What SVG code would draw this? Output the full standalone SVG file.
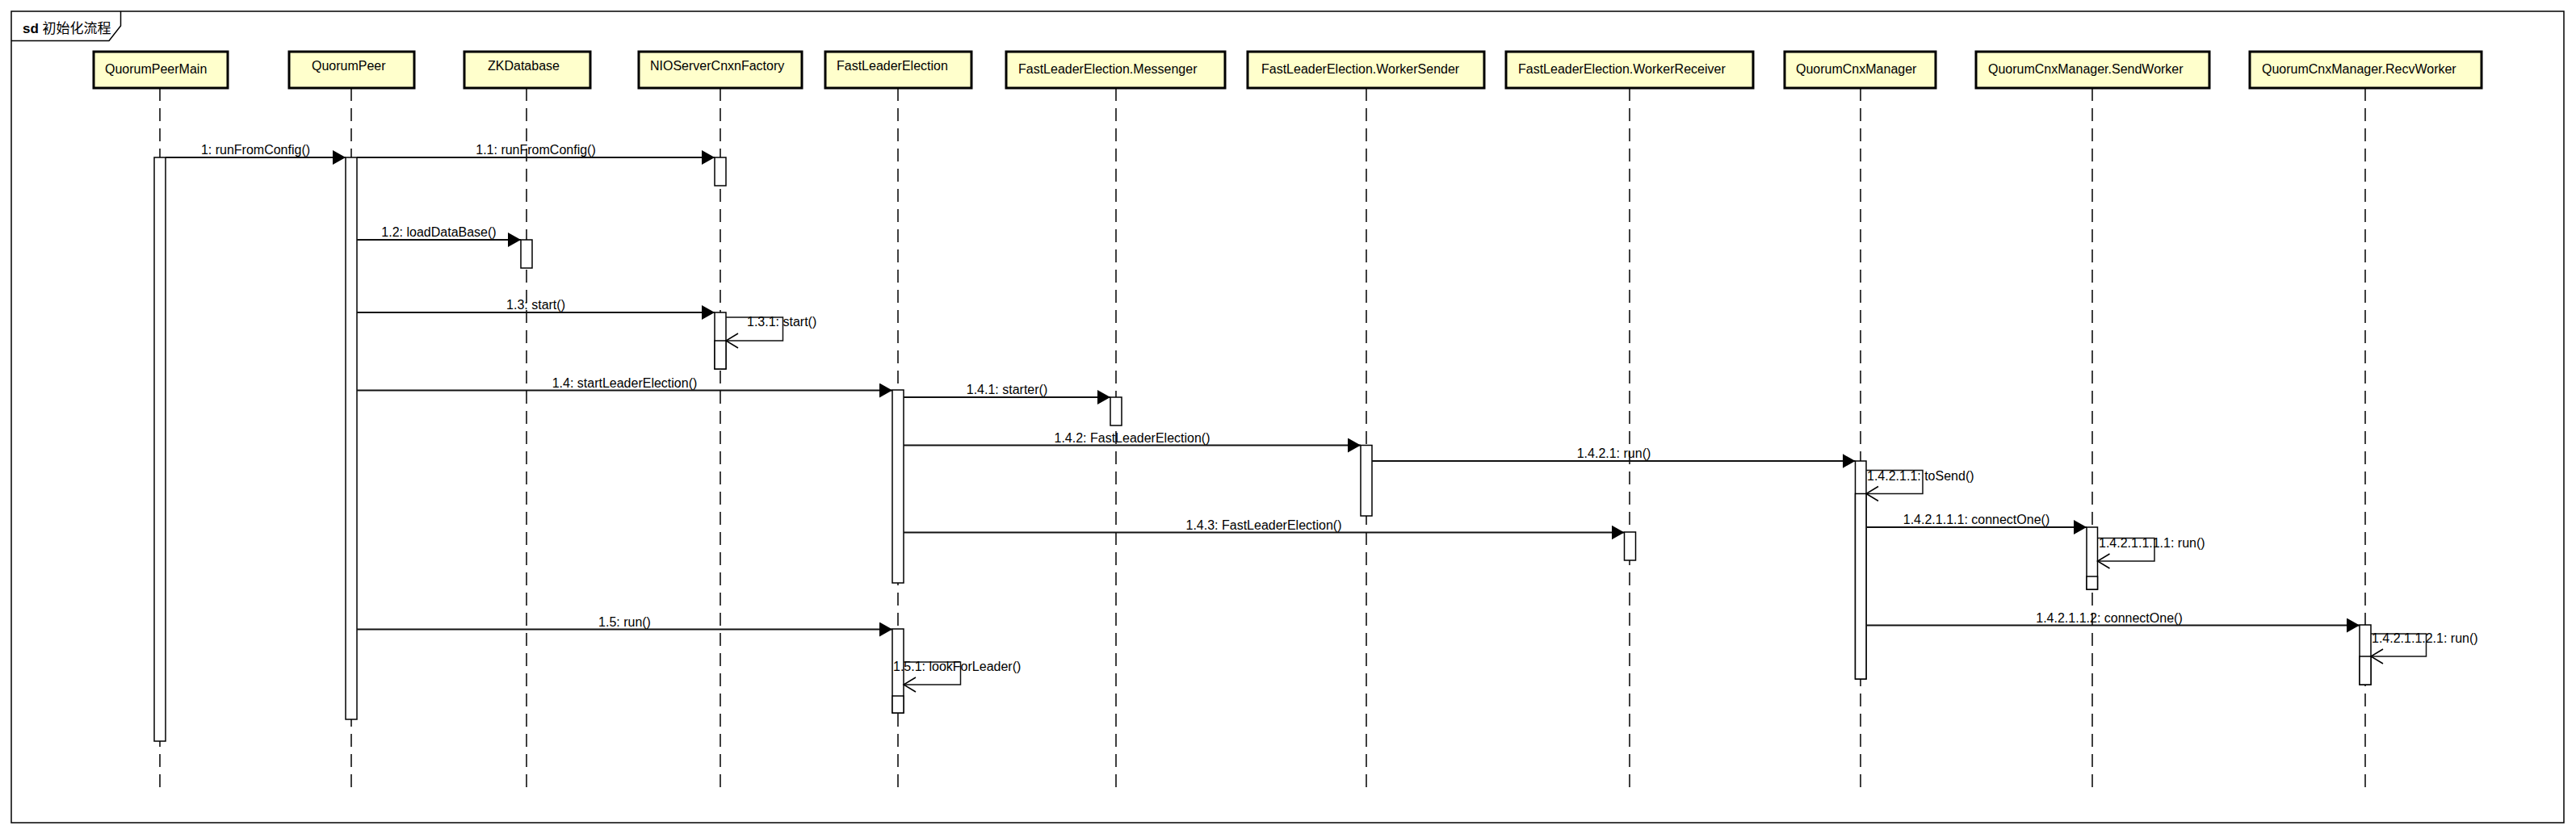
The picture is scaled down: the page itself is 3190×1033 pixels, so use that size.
<svg xmlns="http://www.w3.org/2000/svg" width="3190" height="1033" viewBox="0 0 3190 1033">
<defs>
<style>
text{font-family:"Liberation Sans",Arial,"Noto Sans CJK SC",sans-serif;font-size:16px;fill:#000}
.head{fill:#FFFFCC;stroke:#000;stroke-width:3}
.life{stroke:#000;stroke-width:1.5;stroke-dasharray:16 9;fill:none}
.act{fill:#fff;stroke:#000;stroke-width:1.5}
.msg{stroke:#111;stroke-width:2;fill:none;marker-end:url(#filled)}
.self{stroke:#111;stroke-width:1.5;fill:none;marker-end:url(#open)}
.lbl{text-anchor:middle}
</style>
<marker id="filled" viewBox="0 0 16 18" refX="16" refY="9" markerWidth="16" markerHeight="18" markerUnits="userSpaceOnUse" orient="auto"><path d="M0,0 L16,9 L0,18 Z" fill="#000"/></marker>
<marker id="open" viewBox="-1 -1 17 20" refX="15" refY="9" markerWidth="17" markerHeight="20" markerUnits="userSpaceOnUse" orient="auto" overflow="visible"><path d="M0,0 L15,9 L0,18" fill="none" stroke="#000" stroke-width="1.5"/></marker>
</defs>
<rect width="3190" height="1033" fill="#fff"/>
<g id="frame">
<rect x="14" y="14" width="3161" height="1005" fill="none" stroke="#000" stroke-width="1.5"/>
<path d="M14,50.5 L135,50.5 L149.5,32 L149.5,14" fill="none" stroke="#000" stroke-width="1.5"/>
<text x="28" y="41" style="font-size:17px"><tspan font-weight="bold">sd</tspan> 初始化流程</text>
</g>
<g id="lifelines">
<path class="life" d="M198,109V977 M435,109V977 M652,109V977 M892,109V977 M1112,109V977 M1382,109V977 M1692,109V977 M2018,109V977 M2304,109V977 M2591,109V977 M2929,109V977"/>
</g>
<g id="n-QuorumPeerMain"><rect class="head" x="116" y="64" width="166" height="45"/><text x="130" y="91">QuorumPeerMain</text></g>
<g id="n-QuorumPeer"><rect class="head" x="358" y="64" width="155" height="45"/><text x="386" y="87">QuorumPeer</text></g>
<g id="n-ZKDatabase"><rect class="head" x="575" y="64" width="156" height="45"/><text x="604" y="87">ZKDatabase</text></g>
<g id="n-NIOServerCnxnFactory"><rect class="head" x="791" y="64" width="202" height="45"/><text x="805" y="87">NIOServerCnxnFactory</text></g>
<g id="n-FastLeaderElection"><rect class="head" x="1022" y="64" width="181" height="45"/><text x="1036" y="87">FastLeaderElection</text></g>
<g id="n-Messenger"><rect class="head" x="1246" y="64" width="271" height="45"/><text x="1261" y="91">FastLeaderElection.Messenger</text></g>
<g id="n-WorkerSender"><rect class="head" x="1545" y="64" width="293" height="45"/><text x="1562" y="91">FastLeaderElection.WorkerSender</text></g>
<g id="n-WorkerReceiver"><rect class="head" x="1865" y="64" width="306" height="45"/><text x="1880" y="91">FastLeaderElection.WorkerReceiver</text></g>
<g id="n-QuorumCnxManager"><rect class="head" x="2210" y="64" width="187" height="45"/><text x="2224" y="91">QuorumCnxManager</text></g>
<g id="n-SendWorker"><rect class="head" x="2447" y="64" width="289" height="45"/><text x="2462" y="91">QuorumCnxManager.SendWorker</text></g>
<g id="n-RecvWorker"><rect class="head" x="2786" y="64" width="287" height="45"/><text x="2801" y="91">QuorumCnxManager.RecvWorker</text></g>
<g id="activations">
<rect class="act" x="191" y="195" width="14" height="723"/>
<rect class="act" x="428" y="195" width="14" height="696"/>
<rect class="act" x="885" y="195" width="14" height="35"/>
<rect class="act" x="645" y="297" width="14" height="35"/>
<rect class="act" x="885" y="387" width="14" height="70"/>
<rect class="act" x="885" y="422" width="14" height="35"/>
<rect class="act" x="1105" y="483" width="14" height="239"/>
<rect class="act" x="1375" y="492" width="14" height="35"/>
<rect class="act" x="1685" y="551.5" width="14" height="87.5"/>
<rect class="act" x="2011.5" y="659" width="14" height="35"/>
<rect class="act" x="2297.5" y="571" width="13.5" height="270"/>
<rect class="act" x="2297.5" y="611.5" width="13.5" height="229.5"/>
<rect class="act" x="2584" y="653" width="13.5" height="77"/>
<rect class="act" x="2584" y="714" width="13.5" height="16"/>
<rect class="act" x="2922" y="774" width="14" height="74"/>
<rect class="act" x="2922" y="813" width="14" height="35"/>
<rect class="act" x="1105" y="779" width="14" height="104"/>
<rect class="act" x="1105" y="862" width="14" height="21"/>
</g>
<g id="connectors">
<line class="msg" x1="205" y1="195" x2="428" y2="195"/>
<text class="lbl" x="316.5" y="191">1: runFromConfig()</text>
<line class="msg" x1="442" y1="195" x2="885" y2="195"/>
<text class="lbl" x="663.5" y="191">1.1: runFromConfig()</text>
<line class="msg" x1="442" y1="297" x2="645" y2="297"/>
<text class="lbl" x="543.5" y="293">1.2: loadDataBase()</text>
<line class="msg" x1="442" y1="387" x2="885" y2="387"/>
<text class="lbl" x="663.5" y="383">1.3: start()</text>
<path class="self" d="M899,393 H969.5 V422 H899"/>
<text x="925" y="404">1.3.1: start()</text>
<line class="msg" x1="442" y1="483.5" x2="1105" y2="483.5"/>
<text class="lbl" x="773.5" y="479.5">1.4: startLeaderElection()</text>
<line class="msg" x1="1119" y1="492" x2="1375" y2="492"/>
<text class="lbl" x="1247" y="488">1.4.1: starter()</text>
<line class="msg" x1="1119" y1="551.5" x2="1685" y2="551.5"/>
<text class="lbl" x="1402" y="547.5">1.4.2: FastLeaderElection()</text>
<line class="msg" x1="1699" y1="571" x2="2297.5" y2="571"/>
<text class="lbl" x="1998.5" y="567">1.4.2.1: run()</text>
<path class="self" d="M2311,582.5 H2381 V611.5 H2311"/>
<text x="2312" y="595">1.4.2.1.1: toSend()</text>
<line class="msg" x1="2311" y1="653" x2="2584" y2="653"/>
<text class="lbl" x="2447.5" y="649">1.4.2.1.1.1: connectOne()</text>
<path class="self" d="M2597.5,666.5 H2668 V695 H2597.5"/>
<text x="2599" y="678">1.4.2.1.1.1.1: run()</text>
<line class="msg" x1="1119" y1="659.5" x2="2011.5" y2="659.5"/>
<text class="lbl" x="1565" y="655.5">1.4.3: FastLeaderElection()</text>
<line class="msg" x1="2311" y1="774.5" x2="2922" y2="774.5"/>
<text class="lbl" x="2612" y="770.5">1.4.2.1.1.2: connectOne()</text>
<path class="self" d="M2936,785 H3004.5 V813 H2936"/>
<text x="2937" y="796">1.4.2.1.1.2.1: run()</text>
<line class="msg" x1="442" y1="779.5" x2="1105" y2="779.5"/>
<text class="lbl" x="773.5" y="775.5">1.5: run()</text>
<path class="self" d="M1119,820 H1189.5 V848 H1119"/>
<text x="1106" y="831">1.5.1: lookForLeader()</text>
</g>
</svg>
